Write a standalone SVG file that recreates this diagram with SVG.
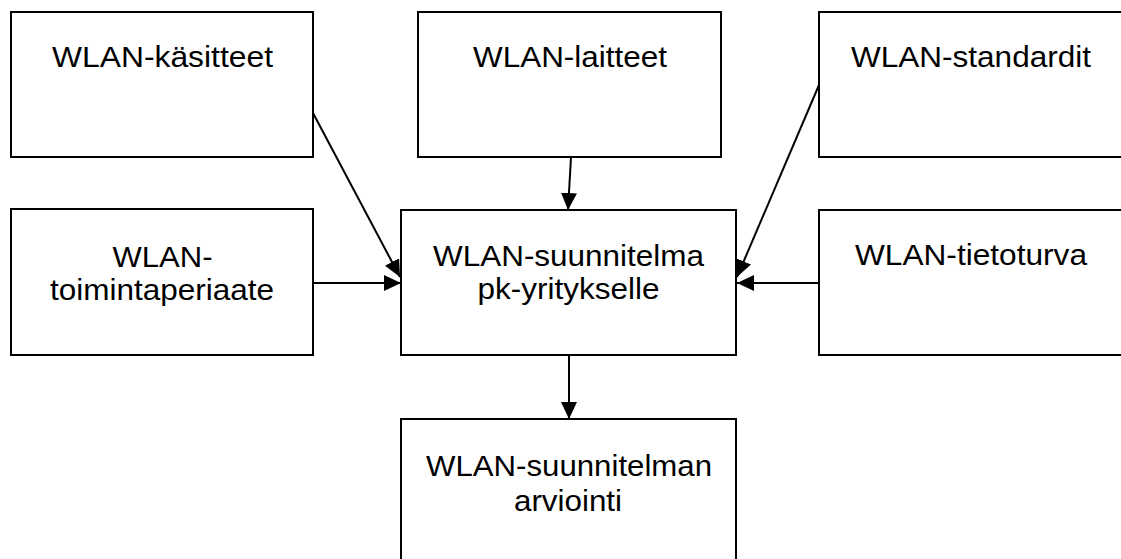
<svg xmlns="http://www.w3.org/2000/svg" width="1121" height="559" viewBox="0 0 1121 559">
<style>
.box{fill:#fff;stroke:#000;stroke-width:2}
.lbl{font-family:"Liberation Sans",Arial,sans-serif;font-size:29px;fill:#000;text-anchor:middle}
.con{stroke:#000;stroke-width:2;fill:none;marker-end:url(#ah)}
</style>
<defs>
<marker id="ah" markerUnits="userSpaceOnUse" markerWidth="17" markerHeight="16" refX="17" refY="8" orient="auto">
<path d="M0,0 L17,8 L0,16 Z" fill="#000"/>
</marker>
</defs>
<rect width="1121" height="559" fill="#fff"/>
<g id="n1"><rect class="box" x="11" y="12" width="302" height="145"/>
<text class="lbl" x="162.5" y="67" textLength="221" lengthAdjust="spacingAndGlyphs">WLAN-käsitteet</text></g>
<g id="n2"><rect class="box" x="418" y="12" width="303" height="145"/>
<text class="lbl" x="570" y="67" textLength="194" lengthAdjust="spacingAndGlyphs">WLAN-laitteet</text></g>
<g id="n3"><rect class="box" x="819" y="12" width="306" height="145"/>
<text class="lbl" x="971" y="67" textLength="240" lengthAdjust="spacingAndGlyphs">WLAN-standardit</text></g>
<g id="n4"><rect class="box" x="11" y="209" width="302" height="146"/>
<text class="lbl" x="162.5" y="267" textLength="100" lengthAdjust="spacingAndGlyphs">WLAN-</text>
<text class="lbl" x="162" y="300" textLength="224" lengthAdjust="spacingAndGlyphs">toimintaperiaate</text></g>
<g id="n5"><rect class="box" x="401" y="210" width="335" height="145"/>
<text class="lbl" x="568.5" y="266" textLength="271" lengthAdjust="spacingAndGlyphs">WLAN-suunnitelma</text>
<text class="lbl" x="568.5" y="299" textLength="182" lengthAdjust="spacingAndGlyphs">pk-yritykselle</text></g>
<g id="n6"><rect class="box" x="819" y="210" width="306" height="145"/>
<text class="lbl" x="971" y="265" textLength="232" lengthAdjust="spacingAndGlyphs">WLAN-tietoturva</text></g>
<g id="n7"><rect class="box" x="401" y="419" width="335" height="150"/>
<text class="lbl" x="569" y="476" textLength="286" lengthAdjust="spacingAndGlyphs">WLAN-suunnitelman</text>
<text class="lbl" x="568" y="511" textLength="108" lengthAdjust="spacingAndGlyphs">arviointi</text></g>
<g id="connectors">
<line class="con" x1="313" y1="113" x2="400" y2="277"/>
<line class="con" x1="313" y1="283" x2="401" y2="283"/>
<line class="con" x1="571" y1="157" x2="568" y2="210"/>
<line class="con" x1="819" y1="85" x2="737" y2="277"/>
<line class="con" x1="819" y1="283" x2="737" y2="283"/>
<line class="con" x1="569" y1="355" x2="569" y2="419"/>
</g>
</svg>
